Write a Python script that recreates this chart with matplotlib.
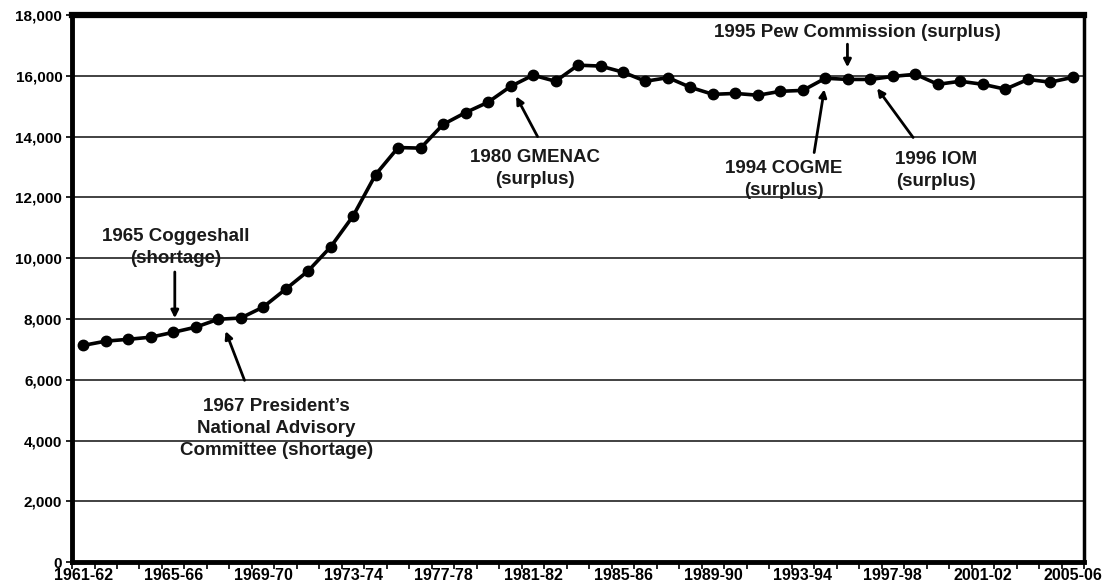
import numpy as np
import matplotlib
matplotlib.use('Agg')
from matplotlib import pyplot as plt

# academic years 1961-62 .. 2005-06
years = ['%d-%02d' % (y, (y + 1) % 100) for y in range(1961, 2006)]
residents = [7130, 7270, 7330, 7400, 7560, 7730, 7990, 8030, 8390, 8980,
             9580, 10370, 11390, 12750, 13640, 13620, 14400, 14790, 15130, 15650,
             16020, 15820, 16350, 16320, 16120, 15820, 15940, 15620, 15390, 15420,
             15360, 15490, 15520, 15920, 15880, 15880, 15980, 16050, 15720, 15820,
             15720, 15560, 15880, 15790, 15950]

y_ticks = list(range(0, 18001, 2000))

# (label, text x, text y, arrow tail, arrow head) in data units
notes = [
    ('1965 Coggeshall\n(shortage)', 4.1, 10340, (4.07, 9545), (4.07, 8025)),
    ("1967 President\u2019s\nNational Advisory\nCommittee (shortage)", 8.6, 4390, (7.17, 5980), (6.33, 7600)),
    ('1980 GMENAC\n(surplus)', 20.1, 12950, (20.2, 14000), (19.25, 15325)),
    ('1994 COGME\n(surplus)', 31.15, 12580, (32.5, 13475), (32.95, 15555)),
    ('1995 Pew Commission (surplus)', 34.4, 17440, (33.98, 17040), (33.98, 16280)),
    ('1996 IOM\n(surplus)', 37.9, 12880, (36.9, 13970), (35.3, 15590)),
]

plt.rcParams['font.family'] = ['Liberation Sans', 'DejaVu Sans']
plt.rcParams['font.weight'] = 'bold'

fig = plt.figure(figsize=(11.03, 5.84), dpi=100)
ax = fig.add_axes([0.0653, 0.0375, 0.9175, 0.9368])

x = np.arange(len(years))
ax.plot(x, residents, color='black', lw=2.6, marker='o', ms=7.5, zorder=3)

ax.set_xlim(-0.5, len(years) - 0.5)
ax.set_ylim(0, 18000)
ax.set_yticks(y_ticks)
ax.set_yticklabels(['{:,}'.format(v) for v in y_ticks], fontsize=11, fontweight='bold')
ax.yaxis.grid(True, color='#333333', lw=1.3)
ax.set_axisbelow(True)

# tick marks at category boundaries, labels every 4th category
ax.set_xticks(np.arange(-0.5, len(years), 1.0))
ax.set_xticklabels([])
ax.set_xticks(x[::4], minor=True)
ax.set_xticklabels(years[::4], minor=True, fontsize=11.5, fontweight='bold')
ax.tick_params(axis='x', which='major', length=5, width=1.2, direction='out')
ax.tick_params(axis='x', which='minor', length=0, pad=4.5)
ax.tick_params(axis='y', length=4, width=1.2, pad=3)

ax.spines['top'].set_linewidth(4.5)
ax.spines['left'].set_linewidth(3.5)
ax.spines['bottom'].set_linewidth(3.5)
ax.spines['right'].set_linewidth(2.5)

for label, tx, ty, tail, head in notes:
    ax.text(tx, ty, label, ha='center', va='center', fontsize=13.5,
            fontweight='bold', color='#1a1a1a', linespacing=1.38)
    ax.annotate('', xy=head, xytext=tail,
                arrowprops=dict(arrowstyle='-|>', color='black', lw=2,
                                mutation_scale=11, shrinkA=0, shrinkB=0))

fig.savefig('out.png', dpi=100)
